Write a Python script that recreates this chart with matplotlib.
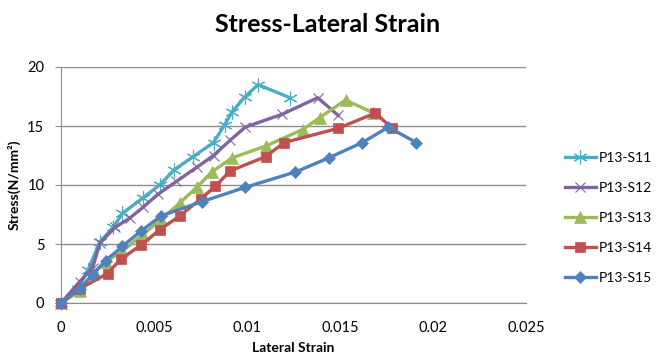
import matplotlib
matplotlib.use("Agg")
import matplotlib.pyplot as plt

plt.rcParams["font.family"] = ["Lato", "DejaVu Sans"]

# ---- data (lateral strain, stress N/mm2) ----
s11_x = [0, 0.0009, 0.00145, 0.0021, 0.0028, 0.0033, 0.0044, 0.0053, 0.0061, 0.0071,
         0.0082, 0.0088, 0.0092, 0.0099, 0.0106, 0.0123]
s11_y = [0, 1.2, 2.8, 5.2, 6.4, 7.6, 8.9, 10.0, 11.3, 12.4, 13.6, 15.1, 16.2, 17.5, 18.5, 17.4]

s12_x = [0, 0.001, 0.0017, 0.0021, 0.0029, 0.0037, 0.0044, 0.0052, 0.0062, 0.0073,
         0.0082, 0.0091, 0.0099, 0.0119, 0.0138, 0.0149]
s12_y = [0, 1.8, 3.0, 5.1, 6.4, 7.2, 8.1, 9.2, 10.3, 11.5, 12.5, 13.8, 14.9, 16.0, 17.4, 15.9]

s13_x = [0, 0.001, 0.0017, 0.0024, 0.0033, 0.0044, 0.0054, 0.0064, 0.0073, 0.0081,
         0.0092, 0.011, 0.013, 0.0139, 0.0153, 0.0168]
s13_y = [0, 1.0, 2.5, 3.5, 4.4, 5.8, 7.1, 8.5, 9.8, 11.1, 12.3, 13.3, 14.7, 15.7, 17.2, 16.1]

s14_x = [0, 0.001, 0.0025, 0.0032, 0.0043, 0.0053, 0.0064, 0.0075, 0.0083, 0.0091,
         0.011, 0.012, 0.0149, 0.0169, 0.0178]
s14_y = [0, 1.2, 2.5, 3.7, 4.9, 6.2, 7.4, 8.8, 9.9, 11.2, 12.4, 13.6, 14.8, 16.1, 14.8]

s15_x = [0, 0.001, 0.0017, 0.0024, 0.0033, 0.0043, 0.0054, 0.0076, 0.0099, 0.0126,
         0.0144, 0.0162, 0.0176, 0.0191]
s15_y = [0, 1.2, 2.4, 3.6, 4.8, 6.1, 7.4, 8.6, 9.8, 11.1, 12.3, 13.6, 14.9, 13.6]

series = [
    ("P13-S11", s11_x, s11_y, "#4BACC6", (6, 2, 0), 10),
    ("P13-S12", s12_x, s12_y, "#8064A2", "x", 7.5),
    ("P13-S13", s13_x, s13_y, "#9BBB59", "^", 8),
    ("P13-S14", s14_x, s14_y, "#C0504D", "s", 7.5),
    ("P13-S15", s15_x, s15_y, "#4F81BD", "D", 6.5),
]

fig = plt.figure(figsize=(6.57, 3.64), dpi=100)
ax = fig.add_axes([61/657, 1-303/364, (526-61)/657, (303-67)/364])

for name, xs, ys, col, mk, ms in series:
    thin = mk in ("x", (6, 2, 0))
    ax.plot(xs, ys, color=col, lw=2.4, marker=mk, ms=ms, mew=0.8 if thin else 0.5,
            mec=col, mfc=col, label=name, clip_on=False, zorder=3)

ax.set_xlim(0, 0.025)
ax.set_ylim(0, 20)
ax.set_xticks([0, 0.005, 0.01, 0.015, 0.02, 0.025])
ax.set_xticklabels(["0", "0.005", "0.01", "0.015", "0.02", "0.025"])
ax.set_yticks([0, 5, 10, 15, 20])
ax.yaxis.grid(True, color="#8c8c8c", lw=1)
ax.set_axisbelow(True)
for sp in ["top", "right"]:
    ax.spines[sp].set_visible(False)
ax.spines["left"].set_color("#8c8c8c")
ax.spines["bottom"].set_color("#8c8c8c")
ax.tick_params(axis="x", length=0, pad=13, labelsize=10.5)
ax.tick_params(axis="y", length=4, color="#8c8c8c", pad=8, labelsize=10.5)

ax.set_xlabel("Lateral Strain", fontsize=10, fontweight="bold", labelpad=5)
ax.set_ylabel("Stress(N/mm²)", fontsize=10, fontweight="bold", labelpad=5)
fig.text(328/657, 1-25/364, "Stress-Lateral Strain", ha="center", va="center",
         fontsize=18, fontweight="bold")

ax.legend(loc="center left", bbox_to_anchor=(565/657, 1-218/364), bbox_transform=fig.transFigure,
          frameon=False, fontsize=10, handlelength=2.2, handletextpad=0.2, labelspacing=1.3,
          borderaxespad=0, borderpad=0)

fig.savefig("out.png", dpi=100)
